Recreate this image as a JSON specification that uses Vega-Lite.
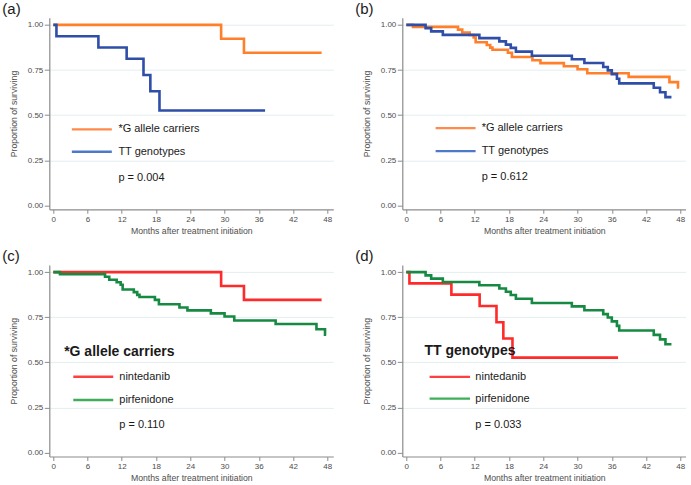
{
  "$schema": "https://vega.github.io/schema/vega-lite/v6.json",
  "background": "white",
  "padding": {"left": 2.3, "top": 1.7, "right": 0, "bottom": 0},
  "config": {
    "font": "Liberation Sans",
    "view": {"stroke": null},
    "axis": {"domainColor": "#8c8c8c", "domainWidth": 1.2, "tickColor": "#8c8c8c", "tickWidth": 1, "labelColor": "#4d4d4d", "labelFontSize": 8, "labelFont": "Liberation Sans", "titleFont": "Liberation Sans", "titleFontSize": 8.7, "titleFontWeight": "normal", "titleColor": "#4d4d4d", "labelOverlap": false, "labelFlush": false},
    "axisX": {"grid": false, "tickSize": 4, "labelPadding": 2, "titlePadding": 3},
    "axisY": {"tickSize": 5, "labelPadding": 1.5, "titlePadding": 9, "gridColor": "#e3eef0", "gridWidth": 1},
    "title": {"fontSize": 15, "fontWeight": "normal", "font": "Liberation Sans", "color": "#1a1a1a", "anchor": "start", "frame": "group", "dx": -47, "offset": 1}
  },
  "datasets": {
    "km": [
      {"arm": "nintedanib", "geno": "*G allele carriers", "t": 0, "s": 1},
      {"arm": "nintedanib", "geno": "*G allele carriers", "t": 29.4, "s": 0.923},
      {"arm": "nintedanib", "geno": "*G allele carriers", "t": 33.4, "s": 0.846},
      {"arm": "nintedanib", "geno": "*G allele carriers", "t": 47.0, "s": 0.846},
      {"arm": "nintedanib", "geno": "TT genotypes", "t": 0, "s": 1},
      {"arm": "nintedanib", "geno": "TT genotypes", "t": 0.55, "s": 0.9375},
      {"arm": "nintedanib", "geno": "TT genotypes", "t": 7.9, "s": 0.875},
      {"arm": "nintedanib", "geno": "TT genotypes", "t": 12.85, "s": 0.8125},
      {"arm": "nintedanib", "geno": "TT genotypes", "t": 15.8, "s": 0.722},
      {"arm": "nintedanib", "geno": "TT genotypes", "t": 17.0, "s": 0.632},
      {"arm": "nintedanib", "geno": "TT genotypes", "t": 18.6, "s": 0.526},
      {"arm": "nintedanib", "geno": "TT genotypes", "t": 37.1, "s": 0.526},
      {"arm": "pirfenidone", "geno": "*G allele carriers", "t": 0, "s": 1},
      {"arm": "pirfenidone", "geno": "*G allele carriers", "t": 1.17, "s": 0.989},
      {"arm": "pirfenidone", "geno": "*G allele carriers", "t": 9.06, "s": 0.974},
      {"arm": "pirfenidone", "geno": "*G allele carriers", "t": 9.8, "s": 0.958},
      {"arm": "pirfenidone", "geno": "*G allele carriers", "t": 11.1, "s": 0.944},
      {"arm": "pirfenidone", "geno": "*G allele carriers", "t": 11.8, "s": 0.93},
      {"arm": "pirfenidone", "geno": "*G allele carriers", "t": 12.15, "s": 0.904},
      {"arm": "pirfenidone", "geno": "*G allele carriers", "t": 14.1, "s": 0.889},
      {"arm": "pirfenidone", "geno": "*G allele carriers", "t": 14.7, "s": 0.874},
      {"arm": "pirfenidone", "geno": "*G allele carriers", "t": 15.1, "s": 0.862},
      {"arm": "pirfenidone", "geno": "*G allele carriers", "t": 17.8, "s": 0.846},
      {"arm": "pirfenidone", "geno": "*G allele carriers", "t": 18.5, "s": 0.822},
      {"arm": "pirfenidone", "geno": "*G allele carriers", "t": 22.1, "s": 0.804},
      {"arm": "pirfenidone", "geno": "*G allele carriers", "t": 23.5, "s": 0.788},
      {"arm": "pirfenidone", "geno": "*G allele carriers", "t": 27.6, "s": 0.771},
      {"arm": "pirfenidone", "geno": "*G allele carriers", "t": 30.0, "s": 0.754},
      {"arm": "pirfenidone", "geno": "*G allele carriers", "t": 31.7, "s": 0.732},
      {"arm": "pirfenidone", "geno": "*G allele carriers", "t": 38.95, "s": 0.712},
      {"arm": "pirfenidone", "geno": "*G allele carriers", "t": 46.1, "s": 0.683},
      {"arm": "pirfenidone", "geno": "*G allele carriers", "t": 47.6, "s": 0.653},
      {"arm": "pirfenidone", "geno": "*G allele carriers", "t": 47.8, "s": 0.653},
      {"arm": "pirfenidone", "geno": "TT genotypes", "t": 0, "s": 1},
      {"arm": "pirfenidone", "geno": "TT genotypes", "t": 3.38, "s": 0.982},
      {"arm": "pirfenidone", "geno": "TT genotypes", "t": 4.36, "s": 0.964},
      {"arm": "pirfenidone", "geno": "TT genotypes", "t": 6.4, "s": 0.945},
      {"arm": "pirfenidone", "geno": "TT genotypes", "t": 12.8, "s": 0.927},
      {"arm": "pirfenidone", "geno": "TT genotypes", "t": 16.3, "s": 0.909},
      {"arm": "pirfenidone", "geno": "TT genotypes", "t": 17.45, "s": 0.891},
      {"arm": "pirfenidone", "geno": "TT genotypes", "t": 18.3, "s": 0.873},
      {"arm": "pirfenidone", "geno": "TT genotypes", "t": 19.2, "s": 0.852},
      {"arm": "pirfenidone", "geno": "TT genotypes", "t": 22.0, "s": 0.829},
      {"arm": "pirfenidone", "geno": "TT genotypes", "t": 29.0, "s": 0.81},
      {"arm": "pirfenidone", "geno": "TT genotypes", "t": 31.2, "s": 0.789},
      {"arm": "pirfenidone", "geno": "TT genotypes", "t": 34.5, "s": 0.767},
      {"arm": "pirfenidone", "geno": "TT genotypes", "t": 35.3, "s": 0.748},
      {"arm": "pirfenidone", "geno": "TT genotypes", "t": 36.0, "s": 0.727},
      {"arm": "pirfenidone", "geno": "TT genotypes", "t": 36.9, "s": 0.702},
      {"arm": "pirfenidone", "geno": "TT genotypes", "t": 37.3, "s": 0.676},
      {"arm": "pirfenidone", "geno": "TT genotypes", "t": 43.35, "s": 0.652},
      {"arm": "pirfenidone", "geno": "TT genotypes", "t": 44.45, "s": 0.627},
      {"arm": "pirfenidone", "geno": "TT genotypes", "t": 45.4, "s": 0.6},
      {"arm": "pirfenidone", "geno": "TT genotypes", "t": 46.45, "s": 0.6}
    ]
  },
  "columns": 2,
  "spacing": {"row": 55.2, "column": 69},
  "bounds": "flush",
  "resolve": {"scale": {"color": "independent"}},
  "concat": [
    {
      "width": 284, "height": 191.6,
      "title": {"text": "(a)"},
      "layer": [
        {
          "data": {"name": "km"},
          "transform": [{"filter": "datum.arm === 'nintedanib'"}],
          "mark": {"type": "line", "interpolate": "step-after", "strokeWidth": 2.6},
          "encoding": {
            "x": {"field": "t", "type": "quantitative", "scale": {"domain": [-0.7, 49.05], "nice": false, "zero": false}, "axis": {"values": [0, 6, 12, 18, 24, 30, 36, 42, 48], "tickCount": 9, "labelOverlap": false, "labelFlush": false, "title": "Months after treatment initiation"}},
            "y": {"field": "s", "type": "quantitative", "scale": {"domain": [-0.022, 1.04], "nice": false, "zero": false}, "axis": {"values": [0, 0.25, 0.5, 0.75, 1], "tickCount": 5, "format": ".2f", "title": "Proportion of surviving", "gridOpacity": {"condition": {"test": "datum.value === 0", "value": 0}, "value": 1}}},
            "color": {"field": "geno", "type": "nominal", "scale": {"domain": ["*G allele carriers", "TT genotypes"], "range": ["#FF7F2A", "#2E4EA8"]}, "legend": null}
          }
        },
        {"data": {"values": [{}]}, "mark": {"type": "rule", "color": "#FF8A4A", "strokeWidth": 2.3}, "encoding": {"x": {"datum": 3.25}, "x2": {"datum": 10.25}, "y": {"datum": 0.421}}},
        {"data": {"values": [{}]}, "mark": {"type": "rule", "color": "#4E78C8", "strokeWidth": 2.3}, "encoding": {"x": {"datum": 3.25}, "x2": {"datum": 10.25}, "y": {"datum": 0.297}}},
        {"data": {"values": [{}]}, "mark": {"type": "text", "align": "left", "baseline": "middle", "fontSize": 11, "color": "#1a1a1a"}, "encoding": {"x": {"datum": 11.4}, "y": {"datum": 0.421}, "text": {"value": "*G allele carriers"}}},
        {"data": {"values": [{}]}, "mark": {"type": "text", "align": "left", "baseline": "middle", "fontSize": 11, "color": "#1a1a1a"}, "encoding": {"x": {"datum": 11.4}, "y": {"datum": 0.297}, "text": {"value": "TT genotypes"}}},
        {"data": {"values": [{}]}, "mark": {"type": "text", "align": "left", "baseline": "middle", "fontSize": 11, "color": "#1a1a1a"}, "encoding": {"x": {"datum": 11.4}, "y": {"datum": 0.152}, "text": {"value": "p = 0.004"}}}
      ]
    },
    {
      "width": 284, "height": 191.6,
      "title": {"text": "(b)"},
      "layer": [
        {
          "data": {"name": "km"},
          "transform": [{"filter": "datum.arm === 'pirfenidone'"}],
          "mark": {"type": "line", "interpolate": "step-after", "strokeWidth": 2.6},
          "encoding": {
            "x": {"field": "t", "type": "quantitative", "scale": {"domain": [-0.7, 49.05], "nice": false, "zero": false}, "axis": {"values": [0, 6, 12, 18, 24, 30, 36, 42, 48], "tickCount": 9, "labelOverlap": false, "labelFlush": false, "title": "Months after treatment initiation"}},
            "y": {"field": "s", "type": "quantitative", "scale": {"domain": [-0.022, 1.04], "nice": false, "zero": false}, "axis": {"values": [0, 0.25, 0.5, 0.75, 1], "tickCount": 5, "format": ".2f", "title": "Proportion of surviving", "gridOpacity": {"condition": {"test": "datum.value === 0", "value": 0}, "value": 1}}},
            "color": {"field": "geno", "type": "nominal", "scale": {"domain": ["*G allele carriers", "TT genotypes"], "range": ["#FF7F2A", "#2E4EA8"]}, "legend": null}
          }
        },
        {"data": {"values": [{}]}, "mark": {"type": "rule", "color": "#FF8A4A", "strokeWidth": 2.3}, "encoding": {"x": {"datum": 5.14}, "x2": {"datum": 12.14}, "y": {"datum": 0.428}}},
        {"data": {"values": [{}]}, "mark": {"type": "rule", "color": "#4E78C8", "strokeWidth": 2.3}, "encoding": {"x": {"datum": 5.14}, "x2": {"datum": 12.14}, "y": {"datum": 0.3}}},
        {"data": {"values": [{}]}, "mark": {"type": "text", "align": "left", "baseline": "middle", "fontSize": 11, "color": "#1a1a1a"}, "encoding": {"x": {"datum": 13.2}, "y": {"datum": 0.428}, "text": {"value": "*G allele carriers"}}},
        {"data": {"values": [{}]}, "mark": {"type": "text", "align": "left", "baseline": "middle", "fontSize": 11, "color": "#1a1a1a"}, "encoding": {"x": {"datum": 13.2}, "y": {"datum": 0.3}, "text": {"value": "TT genotypes"}}},
        {"data": {"values": [{}]}, "mark": {"type": "text", "align": "left", "baseline": "middle", "fontSize": 11, "color": "#1a1a1a"}, "encoding": {"x": {"datum": 13.2}, "y": {"datum": 0.157}, "text": {"value": "p = 0.612"}}}
      ]
    },
    {
      "width": 284, "height": 191.6,
      "title": {"text": "(c)"},
      "layer": [
        {
          "data": {"name": "km"},
          "transform": [{"filter": "datum.geno === '*G allele carriers'"}],
          "mark": {"type": "line", "interpolate": "step-after", "strokeWidth": 2.6},
          "encoding": {
            "x": {"field": "t", "type": "quantitative", "scale": {"domain": [-0.7, 49.05], "nice": false, "zero": false}, "axis": {"values": [0, 6, 12, 18, 24, 30, 36, 42, 48], "tickCount": 9, "labelOverlap": false, "labelFlush": false, "title": "Months after treatment initiation"}},
            "y": {"field": "s", "type": "quantitative", "scale": {"domain": [-0.022, 1.04], "nice": false, "zero": false}, "axis": {"values": [0, 0.25, 0.5, 0.75, 1], "tickCount": 5, "format": ".2f", "title": "Proportion of surviving", "gridOpacity": {"condition": {"test": "datum.value === 0", "value": 0}, "value": 1}}},
            "color": {"field": "arm", "type": "nominal", "scale": {"domain": ["nintedanib", "pirfenidone"], "range": ["#FF2A2A", "#168A42"]}, "legend": null}
          }
        },
        {"data": {"values": [{}]}, "mark": {"type": "text", "align": "left", "baseline": "middle", "fontSize": 14, "fontWeight": "bold", "color": "#1a1a1a"}, "encoding": {"x": {"datum": 1.9}, "y": {"datum": 0.559}, "text": {"value": "*G allele carriers"}}},
        {"data": {"values": [{}]}, "mark": {"type": "rule", "color": "#FF4040", "strokeWidth": 2.3}, "encoding": {"x": {"datum": 3.5}, "x2": {"datum": 10.5}, "y": {"datum": 0.42}}},
        {"data": {"values": [{}]}, "mark": {"type": "rule", "color": "#3FAE5B", "strokeWidth": 2.3}, "encoding": {"x": {"datum": 3.5}, "x2": {"datum": 10.5}, "y": {"datum": 0.291}}},
        {"data": {"values": [{}]}, "mark": {"type": "text", "align": "left", "baseline": "middle", "fontSize": 11, "color": "#1a1a1a"}, "encoding": {"x": {"datum": 11.56}, "y": {"datum": 0.42}, "text": {"value": "nintedanib"}}},
        {"data": {"values": [{}]}, "mark": {"type": "text", "align": "left", "baseline": "middle", "fontSize": 11, "color": "#1a1a1a"}, "encoding": {"x": {"datum": 11.56}, "y": {"datum": 0.291}, "text": {"value": "pirfenidone"}}},
        {"data": {"values": [{}]}, "mark": {"type": "text", "align": "left", "baseline": "middle", "fontSize": 11, "color": "#1a1a1a"}, "encoding": {"x": {"datum": 11.56}, "y": {"datum": 0.152}, "text": {"value": "p = 0.110"}}}
      ]
    },
    {
      "width": 284, "height": 191.6,
      "title": {"text": "(d)"},
      "layer": [
        {
          "data": {"name": "km"},
          "transform": [{"filter": "datum.geno === 'TT genotypes'"}],
          "mark": {"type": "line", "interpolate": "step-after", "strokeWidth": 2.6},
          "encoding": {
            "x": {"field": "t", "type": "quantitative", "scale": {"domain": [-0.7, 49.05], "nice": false, "zero": false}, "axis": {"values": [0, 6, 12, 18, 24, 30, 36, 42, 48], "tickCount": 9, "labelOverlap": false, "labelFlush": false, "title": "Months after treatment initiation"}},
            "y": {"field": "s", "type": "quantitative", "scale": {"domain": [-0.022, 1.04], "nice": false, "zero": false}, "axis": {"values": [0, 0.25, 0.5, 0.75, 1], "tickCount": 5, "format": ".2f", "title": "Proportion of surviving", "gridOpacity": {"condition": {"test": "datum.value === 0", "value": 0}, "value": 1}}},
            "color": {"field": "arm", "type": "nominal", "scale": {"domain": ["nintedanib", "pirfenidone"], "range": ["#FF2A2A", "#168A42"]}, "legend": null}
          }
        },
        {"data": {"values": [{}]}, "mark": {"type": "text", "align": "left", "baseline": "middle", "fontSize": 14, "fontWeight": "bold", "color": "#1a1a1a"}, "encoding": {"x": {"datum": 3.2}, "y": {"datum": 0.561}, "text": {"value": "TT genotypes"}}},
        {"data": {"values": [{}]}, "mark": {"type": "rule", "color": "#FF4040", "strokeWidth": 2.3}, "encoding": {"x": {"datum": 4.08}, "x2": {"datum": 11.17}, "y": {"datum": 0.419}}},
        {"data": {"values": [{}]}, "mark": {"type": "rule", "color": "#3FAE5B", "strokeWidth": 2.3}, "encoding": {"x": {"datum": 4.08}, "x2": {"datum": 11.17}, "y": {"datum": 0.299}}},
        {"data": {"values": [{}]}, "mark": {"type": "text", "align": "left", "baseline": "middle", "fontSize": 11, "color": "#1a1a1a"}, "encoding": {"x": {"datum": 12.1}, "y": {"datum": 0.419}, "text": {"value": "nintedanib"}}},
        {"data": {"values": [{}]}, "mark": {"type": "text", "align": "left", "baseline": "middle", "fontSize": 11, "color": "#1a1a1a"}, "encoding": {"x": {"datum": 12.1}, "y": {"datum": 0.299}, "text": {"value": "pirfenidone"}}},
        {"data": {"values": [{}]}, "mark": {"type": "text", "align": "left", "baseline": "middle", "fontSize": 11, "color": "#1a1a1a"}, "encoding": {"x": {"datum": 12.1}, "y": {"datum": 0.152}, "text": {"value": "p = 0.033"}}}
      ]
    }
  ]
}
